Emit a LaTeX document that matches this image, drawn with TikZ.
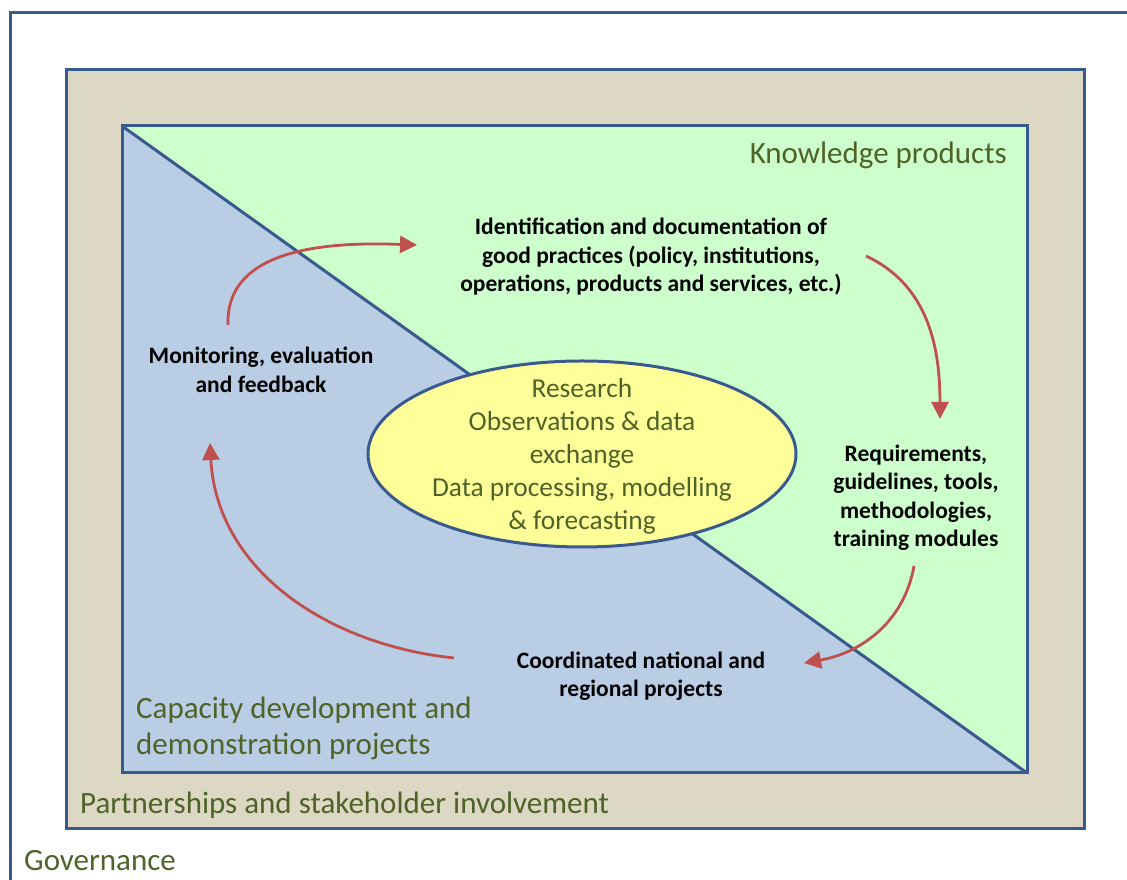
\documentclass[tikz,border=0pt]{standalone}
\usepackage{fontspec}
\setmainfont{Carlito}
\usetikzlibrary{arrows.meta,shapes.geometric}

\definecolor{frameblue}{HTML}{385A8E}
\definecolor{sandbg}{HTML}{DDD8C4}
\definecolor{knowgreen}{HTML}{CCFFCC}
\definecolor{capblue}{HTML}{B9CDE5}
\definecolor{coreyellow}{HTML}{FFFF99}
\definecolor{olivetext}{HTML}{4F6228}
\definecolor{cyclered}{HTML}{C0504D}

\tikzset{
  zone/.style={text=olivetext, font=\fontsize{31}{36}\selectfont, inner sep=0pt, align=left},
  stage/.style={font=\fontsize{23.5}{28.5}\selectfont\bfseries, align=center, inner sep=0pt},
  cycle/.style={draw=cyclered, line width=2.8pt, -{Triangle[length=17pt,width=17pt]}}
}

\begin{document}
\begin{tikzpicture}[x=1pt,y=1pt]
		\clip (0,0) rectangle (1127,880);
		\draw[frameblue, line width=3pt] (10,867) rectangle (1145,-20);
		\draw[frameblue, line width=3pt, fill=sandbg] (66,810) rectangle (1084,51);
		% the two halves of the inner panel
		\fill[capblue] (122,754) -- (1027,107) -- (122,107) -- cycle;
		\fill[knowgreen] (122,754) -- (1027,754) -- (1027,107) -- cycle;
		\draw[frameblue, line width=3pt] (122,754) -- (1027,107);
		\draw[frameblue, line width=3pt] (122,754) rectangle (1027,107);

		\node[ellipse, draw=frameblue, line width=3pt, fill=coreyellow, minimum width=428pt, minimum height=186pt, inner sep=0pt] (core) at (582,426) {};
		\node[text=olivetext, font=\fontsize{27.4}{33}\selectfont, align=center] (coretext) at (582,424) {Research\\Observations \& data\\exchange\\Data processing, modelling\\\& forecasting};

		\node[zone, anchor=east] (know) at (1007,725) {Knowledge products};
		\node[zone, anchor=west] (capac) at (136,152) {Capacity development and\\demonstration projects};
		\node[zone, anchor=west] (partner) at (80,75) {Partnerships and stakeholder involvement};
		\node[zone, anchor=west] (govern) at (24,19) {Governance};

		\node[stage] (practice) at (651,623) {Identification and documentation of\\good practices (policy, institutions,\\operations, products and services, etc.)};
		\node[stage] (require) at (916,382) {Requirements,\\guidelines, tools,\\methodologies,\\training modules};
		\node[stage] (project) at (641,204) {Coordinated national and\\regional projects};
		\node[stage] (monitor) at (261,510) {Monitoring, evaluation\\and feedback};

		\coordinate (monitorout) at (228,555);
		\coordinate (practicein) at (417,635);
		\coordinate (practiceout) at (866,624);
		\coordinate (requirein) at (940,461);
		\coordinate (requireout) at (914,314);
		\coordinate (projectin) at (804,217);
		\coordinate (projectout) at (454,222);
		\coordinate (monitorin) at (210,437);

		\draw[cycle] (monitorout) to[out=92, in=178] (practicein);
		\draw[cycle] (practiceout) to[out=-25, in=90] (requirein);
		\draw[cycle] (requireout) to[out=-100, in=10] (projectin);
		\draw[cycle] (projectout) to[out=174, in=-87] (monitorin);
		\end{tikzpicture}
\end{document}
